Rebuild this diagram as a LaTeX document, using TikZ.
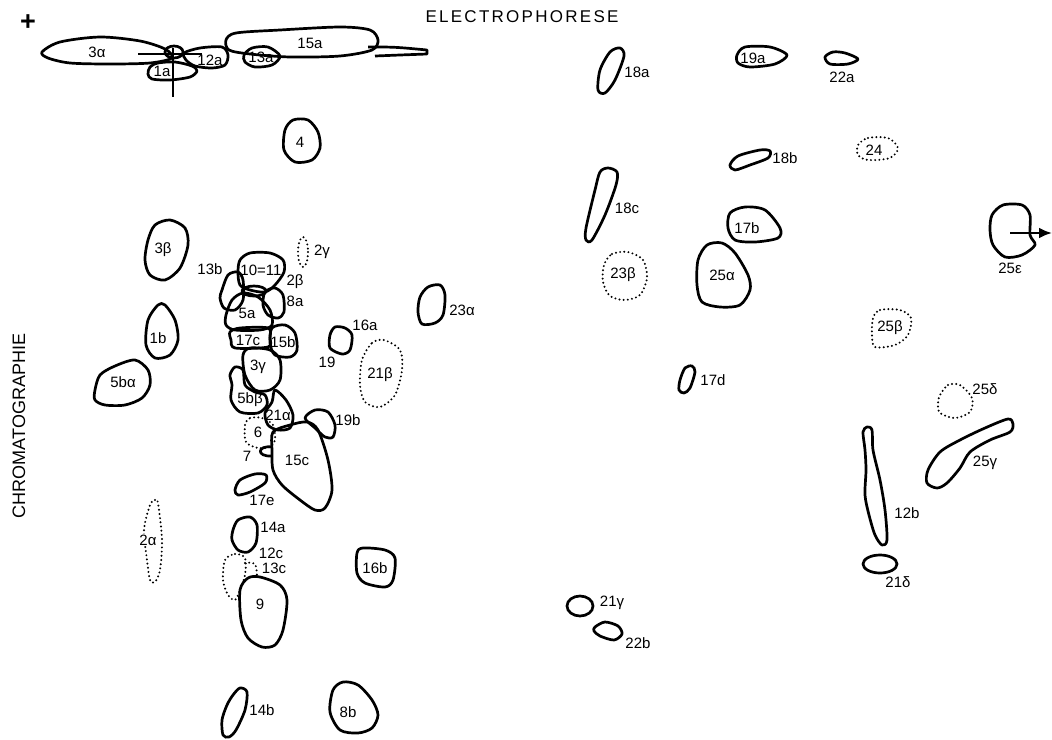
\documentclass[tikz,border=0pt]{standalone}
\usepackage{fontspec}
\setmainfont{Liberation Sans}
\usetikzlibrary{arrows.meta}
\begin{document}
\begin{tikzpicture}[x=1pt,y=-1pt,
  spot/.style={line width=2.7pt,line join=round},
  ghost/.style={line width=2.2pt,line cap=round,dash pattern=on 0pt off 4.2pt},
  every node/.style={font=\fontsize{15}{15}\selectfont,inner sep=0.5pt}]
  \useasboundingbox (0,0) rectangle (1052,739);
  % axis titles
  \node[font=\fontsize{27}{27}\selectfont\bfseries] (plus) at (28,23) {+};
  \node[font=\fontsize{17}{17}\selectfont] (elec) at (522,17) {\hbox to 193pt{E\hfill L\hfill E\hfill C\hfill T\hfill R\hfill O\hfill P\hfill H\hfill O\hfill R\hfill E\hfill S\hfill E}};
  \node[font=\fontsize{18}{18}\selectfont,rotate=90] (chrom) at (19,426) {CHROMATOGRAPHIE};
  % origin
  \draw[spot] plot[smooth cycle] coordinates {(42,52) (60,42) (100,37) (140,41) (165,49) (172,58) (150,63) (110,64) (70,63) (48,58)};
  \draw[spot] (174,52) ellipse [x radius=9,y radius=6];
  \draw[spot] plot[smooth cycle] coordinates {(150,67) (158,63) (175,62) (192,66) (197,71) (190,77) (170,80) (152,79) (148,74)};
  \draw[spot] plot[smooth cycle] coordinates {(184,53) (200,48) (222,47) (228,55) (225,65) (212,68) (195,66) (186,60)};
  \draw[spot] plot[smooth cycle] coordinates {(226,40) (236,33) (280,30) (340,27) (370,30) (378,40) (372,50) (340,56) (290,57) (250,54) (229,50)};
  \draw[spot] (368,47) .. controls (395,47) .. (427,50) -- (427,54) .. controls (400,55) .. (375,56);
  \draw[spot] plot[smooth cycle] coordinates {(244,55) (252,48) (268,47) (280,56) (272,65) (255,67) (245,62)};
  \draw[line width=2.3pt] (138,54) -- (202,54);
  \draw[line width=2.3pt] (173,48) -- (173,97);
  \node (l3alpha) at (97,52) {3α};
  \node (l1a) at (162,71) {1a};
  \node (l12a) at (210,60) {12a};
  \node (l13a) at (261,57) {13a};
  \node (l15a) at (310,43) {15a};
  % left column
  \draw[spot] plot[smooth cycle] coordinates {(285,130) (293,120) (308,120) (318,132) (320,148) (312,160) (295,162) (284,150)};
  \draw[spot] plot[smooth cycle] coordinates {(148,240) (155,225) (170,220) (185,228) (188,245) (180,268) (165,280) (150,275) (145,260)};
  \draw[spot] plot[smooth cycle] coordinates {(148,320) (158,305) (165,305) (175,320) (178,340) (170,355) (155,358) (146,345)};
  \draw[spot] plot[smooth cycle] coordinates {(95,390) (100,375) (115,366) (135,360) (148,370) (150,385) (142,398) (125,405) (105,405) (95,400)};
  \draw[ghost] (303,252) ellipse [x radius=5,y radius=15];
  \node (l4) at (300,142) {4};
  \node (l3beta) at (163,250) {3β};
  \node (l1b) at (158,338) {1b};
  \node (l5balpha) at (123,382) {5bα};
  \node (l2gamma) at (322,252) {2γ};
  % central cluster
  \draw[spot] plot[smooth cycle] coordinates {(222,290) (228,275) (238,272) (243,280) (243,300) (235,310) (224,308) (220,298)};
  \draw[spot] plot[smooth cycle] coordinates {(240,260) (250,253) (270,253) (283,260) (284,272) (275,285) (265,292) (250,290) (240,285) (238,272)};
  \draw[spot] (254,291) ellipse [x radius=12,y radius=5];
  \draw[spot] plot[smooth cycle] coordinates {(265,292) (275,288) (283,295) (284,312) (278,318) (268,315) (263,305)};
  \draw[spot] plot[smooth cycle] coordinates {(226,315) (232,300) (243,293) (258,297) (270,310) (272,325) (260,330) (235,330) (226,325)};
  \draw[spot] plot[smooth cycle] coordinates {(230,332) (240,328) (268,328) (270,338) (268,347) (235,348) (231,340)};
  \draw[spot] plot[smooth cycle] coordinates {(272,328) (285,325) (295,333) (297,350) (290,357) (275,355) (270,343)};
  \draw[spot] plot[smooth cycle] coordinates {(243,355) (250,348) (270,350) (280,360) (280,380) (270,390) (255,390) (245,375)};
  \draw[spot] plot[smooth cycle] coordinates {(230,375) (235,367) (243,370) (245,385) (255,392) (265,395) (267,405) (258,413) (240,412) (231,400) (232,385)};
  \draw[spot] plot[smooth cycle] coordinates {(275,390) (286,400) (293,415) (290,428) (278,430) (268,425) (265,413) (272,402)};
  \draw[spot] plot[smooth cycle] coordinates {(273,432) (290,425) (307,422) (318,430) (328,460) (332,490) (325,508) (315,510) (300,500) (282,485) (273,470) (272,450)};
  \draw[spot] plot[smooth cycle] coordinates {(305,418) (315,410) (328,412) (335,425) (333,437) (325,437) (315,428)};
  \draw[ghost] plot[smooth cycle] coordinates {(245,425) (250,418) (262,418) (273,425) (275,440) (270,447) (258,448) (246,442)};
  \draw[spot] (272,447) .. controls (257,445) and (256,457) .. (272,456);
  \draw[spot] plot[smooth cycle] coordinates {(235,490) (240,480) (255,474) (266,475) (265,483) (250,492) (238,495)};
  \node (l13b) at (210,269) {13b};
  \node (l1011) at (261,270) {10=11};
  \node (l2beta) at (295,282) {2β};
  \node (l8a) at (295,301) {8a};
  \node (l5a) at (247,313) {5a};
  \node (l17c) at (248,340) {17c};
  \node (l15b) at (283,342) {15b};
  \node (l3gamma) at (258,367) {3γ};
  \node (l5bbeta) at (250,400) {5bβ};
  \node (l21alpha) at (278,415) {21α};
  \node (l19b) at (348,420) {19b};
  \node (l6) at (258,432) {6};
  \node (l7) at (247,456) {7};
  \node (l15c) at (297,460) {15c};
  \node (l17e) at (262,500) {17e};
  % right of cluster
  \draw[spot] plot[smooth cycle] coordinates {(330,335) (335,327) (345,328) (352,335) (350,350) (342,354) (330,348)};
  \draw[ghost] plot[smooth cycle] coordinates {(362,360) (372,343) (384,340) (400,350) (402,370) (395,395) (380,407) (365,402) (360,385)};
  \draw[spot] plot[smooth cycle] coordinates {(420,297) (428,287) (440,285) (445,295) (443,315) (435,323) (422,324) (418,312)};
  \node (l16a) at (365,325) {16a};
  \node (l19) at (327,362) {19};
  \node (l21beta) at (380,375) {21β};
  \node (l23alpha) at (462,310) {23α};
  % lower left
  \draw[ghost] plot[smooth cycle] coordinates {(150,505) (155,500) (158,503) (162,540) (160,570) (155,582) (150,580) (147,560) (144,530)};
  \node[fill=white] (l2alpha) at (148,540) {2α};
  \draw[spot] plot[smooth cycle] coordinates {(233,530) (238,520) (250,517) (257,525) (256,543) (248,552) (238,550) (232,540)};
  \draw[ghost] plot[smooth cycle] coordinates {(225,560) (235,554) (245,558) (245,575) (240,590) (235,600) (228,595) (223,580)};
  \draw[ghost] (245,563) .. controls (256,562) .. (257,576);
  \draw[spot] plot[smooth cycle] coordinates {(240,590) (248,578) (260,577) (280,585) (287,600) (283,630) (275,645) (262,647) (248,638) (241,620)};
  \draw[spot] plot[smooth cycle] coordinates {(357,553) (363,548) (385,550) (395,558) (393,580) (385,587) (365,583) (357,573)};
  \draw[spot] plot[smooth cycle] coordinates {(233,695) (240,688) (247,692) (245,710) (236,730) (229,737) (223,735) (222,720) (227,705)};
  \draw[spot] plot[smooth cycle] coordinates {(333,690) (343,682) (358,685) (372,700) (378,715) (372,728) (358,733) (340,730) (330,712)};
  \node (l14a) at (273,527) {14a};
  \node (l12c) at (271,553) {12c};
  \node (l13c) at (274,568) {13c};
  \node (l9) at (260,604) {9};
  \node (l16b) at (375,568) {16b};
  \node (l14b) at (262,710) {14b};
  \node (l8b) at (348,712) {8b};
  % right half
  \draw[spot] plot[smooth cycle] coordinates {(620,48) (624,56) (615,80) (605,93) (598,90) (600,70) (610,52)};
  \draw[spot] plot[smooth cycle] coordinates {(737,55) (745,47) (770,47) (787,55) (775,64) (750,67) (738,63)};
  \draw[spot] plot[smooth cycle] coordinates {(825,57) (833,52) (845,53) (858,59) (848,64) (830,64)};
  \draw[ghost] plot[smooth cycle] coordinates {(858,145) (868,138) (888,138) (898,148) (890,158) (868,160) (858,155)};
  \draw[spot] plot[smooth cycle] coordinates {(730,165) (738,156) (760,150) (770,151) (768,158) (750,165) (735,170)};
  \draw[spot] plot[smooth cycle] coordinates {(608,168) (617,172) (616,185) (605,215) (592,240) (586,240) (586,228) (595,190) (600,172)};
  \draw[spot] plot[smooth cycle] coordinates {(730,213) (745,207) (765,210) (780,228) (778,238) (755,242) (735,240) (728,228)};
  \draw[ghost] plot[smooth cycle] coordinates {(604,265) (612,254) (628,252) (643,260) (647,278) (640,295) (625,300) (610,296) (603,282)};
  \draw[spot] plot[smooth cycle] coordinates {(698,260) (707,245) (722,243) (735,253) (748,275) (750,290) (740,305) (720,307) (702,302) (697,285)};
  \draw[spot] plot[smooth cycle] coordinates {(680,380) (685,368) (692,366) (695,372) (690,388) (684,393) (679,390)};
  \node (l18a) at (637,72) {18a};
  \node (l19a) at (753,58) {19a};
  \node (l22a) at (842,77) {22a};
  \node (l24) at (874,150) {24};
  \node (l18b) at (785,158) {18b};
  \node (l18c) at (627,208) {18c};
  \node (l17b) at (747,228) {17b};
  \node (l23beta) at (623,275) {23β};
  \node (l25alpha) at (722,275) {25α};
  \node (l17d) at (713,380) {17d};
  % far right
  \draw[spot] plot[smooth cycle] coordinates {(992,215) (1003,205) (1022,205) (1030,215) (1030,235) (1035,245) (1022,255) (1005,257) (993,245) (990,230)};
  \coordinate (eps0) at (1010,233);
  \coordinate (eps1) at (1052,233);
  \draw[line width=2.6pt,-{Latex[length=13pt,width=11pt]}] (eps0) -- (eps1);
  \draw[ghost] plot[smooth cycle] coordinates {(873,318) (880,310) (900,310) (911,318) (908,335) (895,345) (875,347) (872,335)};
  \draw[ghost] plot[smooth cycle] coordinates {(940,395) (948,385) (960,385) (972,398) (970,412) (955,418) (940,413) (938,403)};
  \draw[spot] plot[smooth cycle] coordinates {(863,432) (867,427) (872,430) (873,450) (880,480) (885,510) (887,540) (882,545) (875,535) (869,515) (865,495) (866,470) (865,450)};
  \draw[spot] plot[smooth cycle] coordinates {(928,470) (940,452) (960,440) (985,428) (1008,419) (1013,424) (1010,432) (990,440) (970,452) (960,468) (947,483) (937,488) (927,483)};
  \draw[spot] (880,564) ellipse [x radius=17,y radius=9];
  \draw[spot] (580,606) ellipse [x radius=13,y radius=10];
  \draw[spot] plot[smooth cycle] coordinates {(595,627) (605,622) (618,626) (622,634) (614,640) (600,636) (594,631)};
  \node (l25eps) at (1010,268) {25ε};
  \node (l25beta) at (890,328) {25β};
  \node (l25delta) at (985,389) {25δ};
  \node (l12b) at (907,513) {12b};
  \node (l25gamma) at (985,463) {25γ};
  \node (l21delta) at (898,582) {21δ};
  \node (l21gamma) at (612,603) {21γ};
  \node (l22b) at (638,643) {22b};
\end{tikzpicture}
\end{document}
